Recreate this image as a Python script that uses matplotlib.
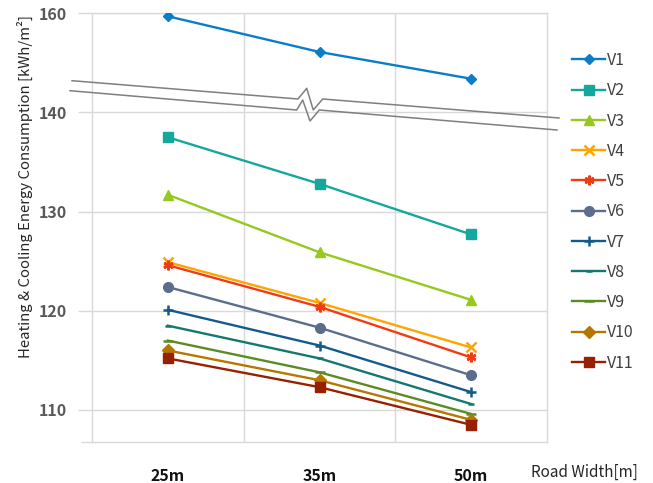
import matplotlib
matplotlib.use("Agg")
import matplotlib.pyplot as plt
from matplotlib.lines import Line2D

plt.rcParams['font.family'] = ['Noto Sans CJK KR', 'DejaVu Sans']

categories = ["25m", "35m", "50m"]
series_names = ["V1", "V2", "V3", "V4", "V5", "V6", "V7", "V8", "V9", "V10", "V11"]
V1 = [159.7, 156.1, 153.4]
V2 = [137.5, 132.8, 127.7]
V3 = [131.7, 125.9, 121.1]
V4 = [124.9, 120.8, 116.3]
V5 = [124.6, 120.4, 115.3]
V6 = [122.4, 118.3, 113.5]
V7 = [120.1, 116.5, 111.8]
V8 = [118.5, 115.2, 110.6]
V9 = [117.0, 113.8, 109.6]
V10 = [116.0, 113.0, 109.0]
V11 = [115.2, 112.3, 108.5]
series_values = [V1, V2, V3, V4, V5, V6, V7, V8, V9, V10, V11]
ytick_values = [110, 120, 130, 140, 160]
break_offset = 10  # values above the axis break are shown shifted down by this amount
break_threshold = 145

colors = ["#0a7dc8", "#14a89c", "#96c81e", "#ffa500", "#f03c14", "#5a6e8c",
          "#145a8c", "#14786e", "#5a8c23", "#b47800", "#962000"]
markers = ["D", "s", "^", "x", (6, 2, 0), "o", "+", "_", "_", "D", "s"]
msizes = [5, 7, 7, 7, 7, 7, 7, 5, 7, 6, 7]

W, H = 653, 483
fig = plt.figure(figsize=(W / 100, H / 100), dpi=100)
ax = fig.add_axes([92 / W, 1 - 442 / H, (547 - 92) / W, (442 - 13) / H])

x = [i + 0.5 for i in range(len(categories))]
for name, vals, c, m, ms in zip(series_names, series_values, colors, markers, msizes):
    disp = [v - break_offset if v > break_threshold else v for v in vals]
    mew = 1.8 if m in ("x", "+", "_", (6, 2, 0)) else 1
    ax.plot(x, disp, color=c, lw=1.7, marker=m, ms=ms, mew=mew, label=name, zorder=3)

ax.set_xlim(0, 3)
ax.set_ylim(106.77, 150.03)
disp_ticks = [t - break_offset if t > break_threshold else t for t in ytick_values]
ax.set_yticks(disp_ticks)
ax.set_yticklabels([str(t) for t in ytick_values], fontsize=11.5, fontweight='bold', color='#595959')
ax.set_xticks(x)
ax.set_xticklabels(categories, fontsize=11.5, fontweight='bold', color='#111111')
ax.tick_params(axis='y', length=10, width=1, color='#d9d9d9', pad=8)
ax.tick_params(axis='x', length=0, pad=19)

for yv in disp_ticks:
    ax.axhline(yv, color='#d9d9d9', lw=1, zorder=1)
for xv in [1, 2]:
    ax.axvline(xv, color='#d9d9d9', lw=1, zorder=1)
for s in ax.spines.values():
    s.set_color('#d9d9d9')
    s.set_linewidth(1)
ax.add_line(Line2D([-10 / 455, 0], [0, 0], transform=ax.transAxes, color='#d9d9d9',
                   lw=1, clip_on=False))

# axis break marks (figure pixel coordinates)
def px(pts):
    return [p[0] / W for p in pts], [1 - p[1] / H for p in pts]

upper = [(72, 80.7), (298, 99), (306.7, 88.3), (313.3, 110), (322.7, 99), (559, 118)]
lower = [(70, 90.7), (296.7, 110), (302.7, 100), (310, 121), (319.3, 110), (557, 130)]
for pts in (upper, lower):
    xs, ys = px(pts)
    fig.add_artist(Line2D(xs, ys, transform=fig.transFigure, color='#7f7f7f', lw=1.1, zorder=5))

fig.text(25 / W, 1 - 187 / H, "Heating & Cooling Energy Consumption [kWh/m\u00b2]",
         rotation=90, ha='center', va='center', fontsize=10.7, color='#262626')
fig.text(584 / W, 1 - 472 / H, "Road Width[m]", ha='center', va='center',
         fontsize=11, color='#262626')

leg = ax.legend(loc='upper left', bbox_to_anchor=(572 / W, 1 - 52 / H),
                bbox_transform=fig.transFigure, frameon=False, fontsize=11.5,
                labelspacing=0.83, handlelength=2.07, handletextpad=0.15,
                borderpad=0, borderaxespad=0)
for t in leg.get_texts():
    t.set_color('#404040')

fig.savefig("out.png", dpi=100)
